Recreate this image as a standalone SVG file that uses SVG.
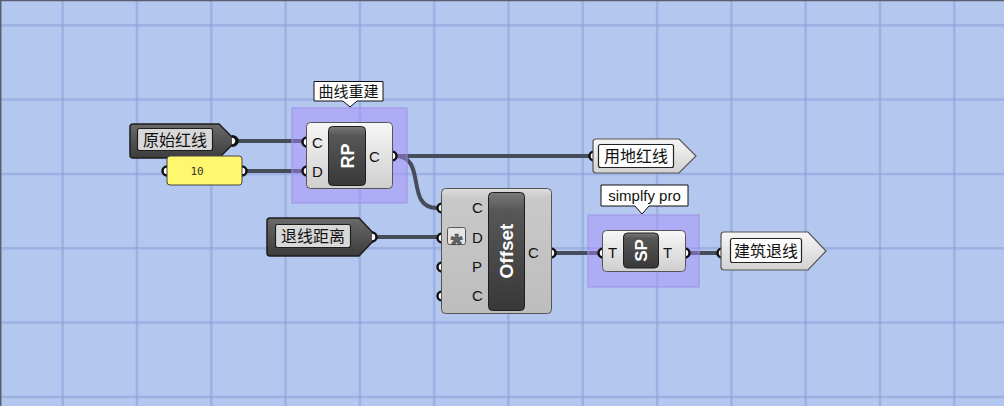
<svg xmlns="http://www.w3.org/2000/svg" width="1004" height="406" viewBox="0 0 1004 406">
<defs>
<linearGradient id="gBody" x1="0" y1="0" x2="0" y2="1"><stop offset="0" stop-color="#f7f7f7"/><stop offset="1" stop-color="#cfcfcf"/></linearGradient>
<linearGradient id="gBodyO" x1="0" y1="0" x2="0" y2="1"><stop offset="0" stop-color="#dedede"/><stop offset="0.08" stop-color="#c9c9c9"/><stop offset="1" stop-color="#bdbdbd"/></linearGradient>
<linearGradient id="gDark" x1="0" y1="0" x2="0" y2="1"><stop offset="0" stop-color="#7a7a7a"/><stop offset="0.15" stop-color="#575757"/><stop offset="1" stop-color="#383838"/></linearGradient>
<linearGradient id="gParamDark" x1="0" y1="0" x2="0" y2="1"><stop offset="0" stop-color="#6a6a6a"/><stop offset="1" stop-color="#3c3c3c"/></linearGradient>
<linearGradient id="gParamLight" x1="0" y1="0" x2="0" y2="1"><stop offset="0" stop-color="#f6f6f6"/><stop offset="1" stop-color="#d2d2d2"/></linearGradient>
</defs>
<style>
.grid{stroke:#8c9fd8;stroke-opacity:0.55;stroke-width:2.5}
.wire{fill:none;stroke:#474c5a;stroke-width:4}
.grip{fill:#fff;stroke:#111;stroke-width:2.5}
.grp{fill:#a98cff;fill-opacity:0.45;stroke:#9f8fe6;stroke-width:1}
.body{fill:url(#gBody);stroke:#555;stroke-width:1}
.core{fill:url(#gDark);stroke:#1e1e1e;stroke-width:1}
.lbl{font-family:"Liberation Sans",Arial,sans-serif;font-size:15px;fill:#111}
.ctext{font-family:"Liberation Sans",Arial,sans-serif;font-weight:bold;fill:#fff}
.cjk{font-family:"Noto Sans CJK SC","Noto Sans",sans-serif;font-size:16px;fill:#111}
.tip{fill:#fff;stroke:#111;stroke-width:1}
</style>
<rect x="0" y="0" width="1004" height="406" fill="#b4c7ef"/>
<g id="grid">
<line class="grid" x1="0" y1="25.3" x2="1004" y2="25.3"/>
<line class="grid" x1="0" y1="99.6" x2="1004" y2="99.6"/>
<line class="grid" x1="0" y1="174" x2="1004" y2="174"/>
<line class="grid" x1="0" y1="248.3" x2="1004" y2="248.3"/>
<line class="grid" x1="0" y1="322.6" x2="1004" y2="322.6"/>
<line class="grid" x1="0" y1="396.9" x2="1004" y2="396.9"/>
<line class="grid" x1="62.7" y1="0" x2="62.7" y2="406"/>
<line class="grid" x1="137" y1="0" x2="137" y2="406"/>
<line class="grid" x1="211.3" y1="0" x2="211.3" y2="406"/>
<line class="grid" x1="285.6" y1="0" x2="285.6" y2="406"/>
<line class="grid" x1="359.9" y1="0" x2="359.9" y2="406"/>
<line class="grid" x1="434.2" y1="0" x2="434.2" y2="406"/>
<line class="grid" x1="508.5" y1="0" x2="508.5" y2="406"/>
<line class="grid" x1="582.8" y1="0" x2="582.8" y2="406"/>
<line class="grid" x1="657.1" y1="0" x2="657.1" y2="406"/>
<line class="grid" x1="731.4" y1="0" x2="731.4" y2="406"/>
<line class="grid" x1="805.7" y1="0" x2="805.7" y2="406"/>
<line class="grid" x1="880" y1="0" x2="880" y2="406"/>
<line class="grid" x1="954.3" y1="0" x2="954.3" y2="406"/>
</g>
<line x1="0" y1="0.5" x2="1004" y2="0.5" stroke="#5a5f70" stroke-width="1.5"/>
<line x1="0.7" y1="0" x2="0.7" y2="406" stroke="#5a5f70" stroke-width="1.5"/>

<g id="connectors">
<path class="wire" d="M236,141 H305"/>
<path class="wire" d="M245,171 H305"/>
<path class="wire" d="M395,156 H589"/>
<path class="wire" d="M395,156 C428,156 404,208 437,208"/>
<path class="wire" d="M374,237 H437"/>
<path class="wire" d="M554,253 H599"/>
<path class="wire" d="M688,253 H717"/>
</g>

<g id="group-rp">
<rect class="grp" x="292" y="108" width="115" height="95"/>
<path class="tip" d="M314,81.5 H383 V101 H357 L350,107 L343,101 H314 Z"/>
<text class="cjk" x="348.5" y="96.5" text-anchor="middle" style="font-size:15px">曲线重建</text>
</g>

<g id="group-sp">
<rect class="grp" x="588" y="215" width="111" height="72"/>
<path class="tip" d="M601,185 H688 V206 H649 L642,214 L635,206 H601 Z"/>
<text class="lbl" x="644.5" y="201" text-anchor="middle">simplfy pro</text>
</g>

<g id="param-yuanshi">
<circle class="grip" cx="233" cy="141" r="4.5"/>
<path d="M133,124 H219 L236,141 L219,158 H133 Q130,158 130,155 V127 Q130,124 133,124 Z" fill="url(#gParamDark)" stroke="#1e1e1e" stroke-width="1.5"/>
<rect x="137.5" y="128.5" width="75" height="22" rx="2" fill="#d8d8d8" stroke="#1e1e1e" stroke-width="1.2"/>
<text class="cjk" x="175" y="145.5" text-anchor="middle">原始红线</text>
<path d="M232,136.5 A4.5,4.5 0 1,1 232,145.5" class="grip"/>
</g>

<g id="panel-10">
<circle class="grip" cx="167" cy="171" r="4.5"/>
<circle class="grip" cx="242" cy="171" r="4.5"/>
<rect x="167" y="156" width="75" height="29" rx="3" fill="#fff76e" stroke="#444" stroke-width="1"/>
<text x="197" y="174.5" text-anchor="middle" font-family="'DejaVu Sans Mono','Liberation Mono',monospace" font-size="11" fill="#333">10</text>
</g>

<g id="comp-rp">
<circle class="grip" cx="307" cy="142" r="4.5"/>
<circle class="grip" cx="307" cy="171" r="4.5"/>
<circle class="grip" cx="392" cy="156" r="4.5"/>
<rect class="body" x="306.5" y="122.5" width="86" height="66" rx="4"/>
<rect class="core" x="328.5" y="126.5" width="37" height="59" rx="4"/>
<text class="ctext" font-size="18" transform="translate(353.5,156) rotate(-90)" text-anchor="middle">RP</text>
<text class="lbl" x="312" y="147.5">C</text>
<text class="lbl" x="312" y="177">D</text>
<text class="lbl" x="369" y="162">C</text>
</g>

<g id="param-tuixian">
<path d="M270,218 H359 L377,237 L359,256 H270 Q267,256 267,253 V221 Q267,218 270,218 Z" fill="url(#gParamDark)" stroke="#1e1e1e" stroke-width="1.5"/>
<rect x="275.5" y="224.5" width="75" height="23" rx="2" fill="#d8d8d8" stroke="#1e1e1e" stroke-width="1.2"/>
<text class="cjk" x="313" y="242" text-anchor="middle">退线距离</text>
<path d="M372,232.5 A4.5,4.5 0 1,1 372,241.5" class="grip"/>
</g>

<g id="comp-offset">
<circle class="grip" cx="442" cy="208" r="4.5"/>
<circle class="grip" cx="442" cy="238" r="4.5"/>
<circle class="grip" cx="442" cy="267" r="4.5"/>
<circle class="grip" cx="442" cy="296" r="4.5"/>
<circle class="grip" cx="551" cy="253" r="4.5"/>
<rect x="441.5" y="188.5" width="110" height="125" rx="4" fill="url(#gBodyO)" stroke="#555" stroke-width="1"/>
<rect class="core" x="488.5" y="192.5" width="36" height="118" rx="4"/>
<text class="ctext" font-size="19" transform="translate(513,251) rotate(-90)" text-anchor="middle">Offset</text>
<rect x="447.5" y="227.5" width="18" height="17" rx="2" fill="#e4e4e4" stroke="#555" stroke-width="1"/>
<text x="456.5" y="254" text-anchor="middle" font-family="'Liberation Sans',Arial,sans-serif" font-weight="bold" font-size="30" fill="#666" stroke="#444" stroke-width="0.6">*</text>
<text class="lbl" x="472" y="213">C</text>
<text class="lbl" x="472" y="243">D</text>
<text class="lbl" x="472" y="272">P</text>
<text class="lbl" x="472" y="301">C</text>
<text class="lbl" x="528" y="258">C</text>
</g>

<g id="comp-sp">
<circle class="grip" cx="603" cy="253" r="4.5"/>
<circle class="grip" cx="685" cy="253" r="4.5"/>
<rect class="body" x="602.5" y="230.5" width="83" height="41" rx="4"/>
<rect class="core" x="623.5" y="233" width="35" height="35" rx="4"/>
<text class="ctext" font-size="17" transform="translate(647,250.5) rotate(-90)" text-anchor="middle">SP</text>
<text class="lbl" x="608" y="258">T</text>
<text class="lbl" x="663" y="258">T</text>
</g>

<g id="param-yongdi">
<circle class="grip" cx="594" cy="156" r="4.5"/>
<path d="M596,139 H679 L696,156 L679,173 H596 Q593,173 593,170 V142 Q593,139 596,139 Z" fill="url(#gParamLight)" stroke="#555" stroke-width="1.2"/>
<rect x="598.5" y="144.5" width="75" height="23" rx="2" fill="#fff" stroke="#222" stroke-width="1.2"/>
<text class="cjk" x="636" y="162" text-anchor="middle">用地红线</text>
</g>

<g id="param-jianzhu">
<circle class="grip" cx="722" cy="253" r="4.5"/>
<path d="M724,232 H808 L826,251 L808,270 H724 Q721,270 721,267 V235 Q721,232 724,232 Z" fill="url(#gParamLight)" stroke="#555" stroke-width="1.2"/>
<rect x="730.5" y="238.5" width="71" height="24" rx="2" fill="#fff" stroke="#222" stroke-width="1.2"/>
<text class="cjk" x="766" y="256.5" text-anchor="middle">建筑退线</text>
</g>
</svg>
